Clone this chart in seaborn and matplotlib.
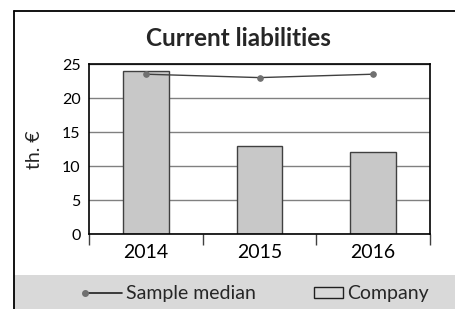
import numpy as np
import pandas as pd
import matplotlib
matplotlib.use("Agg")
import matplotlib.pyplot as plt
import seaborn as sns
from matplotlib.lines import Line2D
from matplotlib.patches import Patch, Rectangle
from matplotlib.legend_handler import HandlerBase

years = ["2014", "2015", "2016"]
company = [24, 13, 12]
median = [23.5, 23, 23.5]
yticks = [0, 5, 10, 15, 20, 25]

sns.set_style("white")
plt.rcParams['font.family'] = ['Lato', 'DejaVu Sans']

df = pd.DataFrame({"year": years, "company": company, "median": median})


class DotLineHandler(HandlerBase):
    # line with the dot only at its left end, like the reference legend
    def create_artists(self, legend, orig_handle, xdescent, ydescent, width, height, fontsize, trans):
        y = height / 2 - ydescent
        line = Line2D([-xdescent, width - xdescent], [y, y], color="#202020", lw=1.2, transform=trans)
        dot = Line2D([-xdescent], [y], marker="o", markersize=4, color="#707070", lw=0, transform=trans)
        return [line, dot]


class SmallBoxHandler(HandlerBase):
    # narrower box, right-aligned in the handle area
    def create_artists(self, legend, orig_handle, xdescent, ydescent, width, height, fontsize, trans):
        w = width * 0.8
        box = Rectangle((width - xdescent - w, -ydescent), w, height, facecolor="#d9d9d9",
                        edgecolor="#202020", lw=1, transform=trans)
        return [box]


fig = plt.figure(figsize=(4.55, 3.09), dpi=100)
fig.patch.set_facecolor("white")

# grey legend band + frame lines
fig.patches.append(Rectangle((14/455, 0), 1, 34/309, transform=fig.transFigure,
                             facecolor="#d9d9d9", edgecolor="none", zorder=0))
fig.add_artist(Line2D([14/455, 14/455], [0, 1 - 11/309], transform=fig.transFigure, color="black", lw=1.3))
fig.add_artist(Line2D([14/455, 1], [1 - 11/309, 1 - 11/309], transform=fig.transFigure, color="black", lw=1.3))

ax = fig.add_axes([89/455, 75/309, 341/455, 170/309])
sns.barplot(data=df, x="year", y="company", color="#c8c8c8", edgecolor="#404040",
            linewidth=1, width=0.4, saturation=1, ax=ax, zorder=2)
sns.pointplot(data=df, x="year", y="median", color="#404040", markers="o",
              markersize=4, linewidth=1, ax=ax, zorder=3)
for l in ax.lines:
    l.set_markerfacecolor("#707070")
    l.set_markeredgecolor("#707070")

ax.set_ylim(0, 25)
ax.set_yticks(yticks)
ax.set_xlim(-0.5, 2.5)
ax.yaxis.grid(True, color="#808080", lw=1)
ax.set_axisbelow(True)
for s in ax.spines.values():
    s.set_color("black")
    s.set_linewidth(1.2)
ax.tick_params(axis="y", labelsize=11.5, length=0, pad=6, colors="black")
ax.tick_params(axis="x", labelsize=14, length=0, pad=7, colors="black")
ax.set_xticks([-0.5, 0.5, 1.5, 2.5], minor=True)
ax.tick_params(axis="x", which="minor", bottom=True, length=8, direction="out", color="#404040", width=1)
ax.set_xlabel("")
ax.set_ylabel("")

fig.text(35/455, 1 - 150/309, "th. €", rotation=90, ha="center", va="center", fontsize=14)
fig.text(238/455, 1 - 38/309, "Current liabilities", ha="center", va="center",
         fontsize=17.5, fontweight="bold")

handles = [Line2D([], []), Patch()]
fig.legend(handles, ["Sample median", "Company"], loc="center", ncol=2,
           handler_map={Line2D: DotLineHandler(), Patch: SmallBoxHandler()},
           bbox_to_anchor=(257/455, 15/309), frameon=False, fontsize=14,
           handlelength=1.9, handleheight=0.45, handletextpad=0.2, columnspacing=2.6)

fig.savefig("out.png", dpi=100)
